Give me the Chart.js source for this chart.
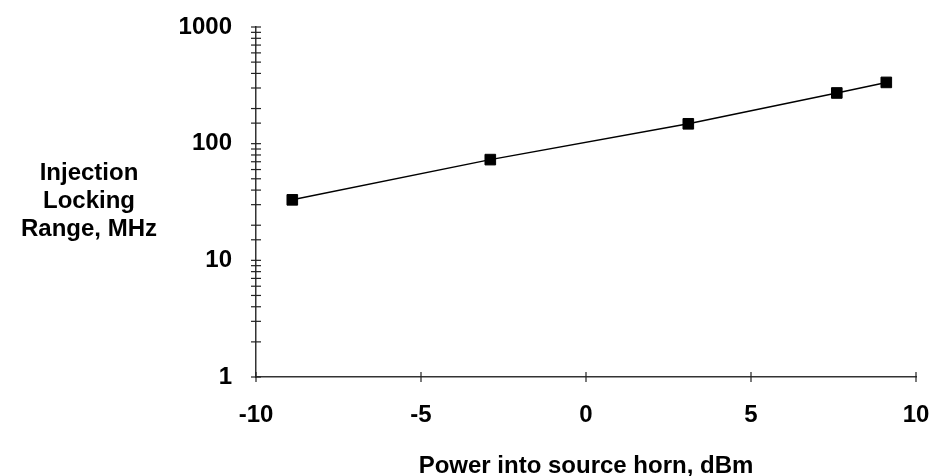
<!DOCTYPE html>
<html>
<head>
<meta charset="utf-8">
<script src="https://cdn.jsdelivr.net/npm/chart.js@4"></script>
<style>
  body { margin: 0; background: #fff; }
  #wrap { position: relative; width: 936px; height: 476px; }
  #ytitle {
    position: absolute; left: 0; top: 158px; width: 178px;
    font: bold 24px "Liberation Sans", Arial, sans-serif;
    line-height: 28px; text-align: center; color: #000;
  }
</style>
</head>
<body>
<div id="wrap">
  <canvas id="grafico" width="936" height="476"></canvas>
  <div id="ytitle">Injection<br>Locking<br>Range, MHz</div>
</div>
<script>
const potencia = [-8.9, -2.9, 3.1, 7.6, 9.1];
const faixa = [33, 73, 148, 272, 335];
const xTicks = [-10, -5, 0, 5, 10];
const yLabels = [1, 10, 100, 1000];

const fonte = { family: "'Liberation Sans', Arial, sans-serif", size: 24, weight: "bold" };

// marcas de escala cruzando os eixos
const marcas = {
  id: "marcas",
  afterDraw(chart) {
    const { ctx, scales: { x, y } } = chart;
    ctx.save();
    ctx.strokeStyle = "#222";
    ctx.lineWidth = 1.2;
    const ax = x.left, ay = y.bottom;
    y.ticks.forEach(t => {
      const py = y.getPixelForValue(t.value);
      ctx.beginPath();
      ctx.moveTo(ax - 5, py);
      ctx.lineTo(ax + 5, py);
      ctx.stroke();
    });
    x.ticks.forEach(t => {
      const px = x.getPixelForValue(t.value);
      ctx.beginPath();
      ctx.moveTo(px, ay - 5);
      ctx.lineTo(px, ay + 5);
      ctx.stroke();
    });
    ctx.restore();
  }
};

new Chart(document.getElementById("grafico"), {
  type: "scatter",
  data: {
    datasets: [{
      data: potencia.map((p, i) => ({ x: p, y: faixa[i] })),
      showLine: true,
      borderColor: "#000",
      borderWidth: 1.5,
      backgroundColor: "#000",
      pointStyle: "rect",
      pointRadius: 7.5,
      pointBorderWidth: 1
    }]
  },
  options: {
    responsive: false,
    animation: false,
    layout: { padding: { top: 27, right: 20, left: 0, bottom: 0 } },
    plugins: { legend: { display: false }, tooltip: { enabled: false } },
    scales: {
      x: {
        type: "linear",
        min: -10,
        max: 10,
        afterBuildTicks: s => { s.ticks = xTicks.map(v => ({ value: v })); },
        afterFit: s => { s.height = 99; s.paddingLeft = 0; s.paddingRight = 0; },
        grid: { display: false },
        border: { display: true, color: "#333", width: 1.5 },
        ticks: { color: "#000", font: fonte, padding: 16, maxRotation: 0 },
        title: {
          display: true,
          text: "Power into source horn, dBm",
          color: "#000",
          font: fonte,
          padding: { top: -5, bottom: -5 }
        }
      },
      y: {
        type: "logarithmic",
        min: 1,
        max: 1000,
        afterFit: s => { s.width = 256; s.paddingTop = 0; s.paddingBottom = 0; },
        grid: { display: false },
        border: { display: true, color: "#333", width: 1.5 },
        ticks: {
          color: "#000",
          font: fonte,
          padding: 16,
          autoSkip: false,
          callback: v => yLabels.includes(v) ? String(v) : ""
        }
      }
    }
  },
  plugins: [marcas]
});
</script>
</body>
</html>
